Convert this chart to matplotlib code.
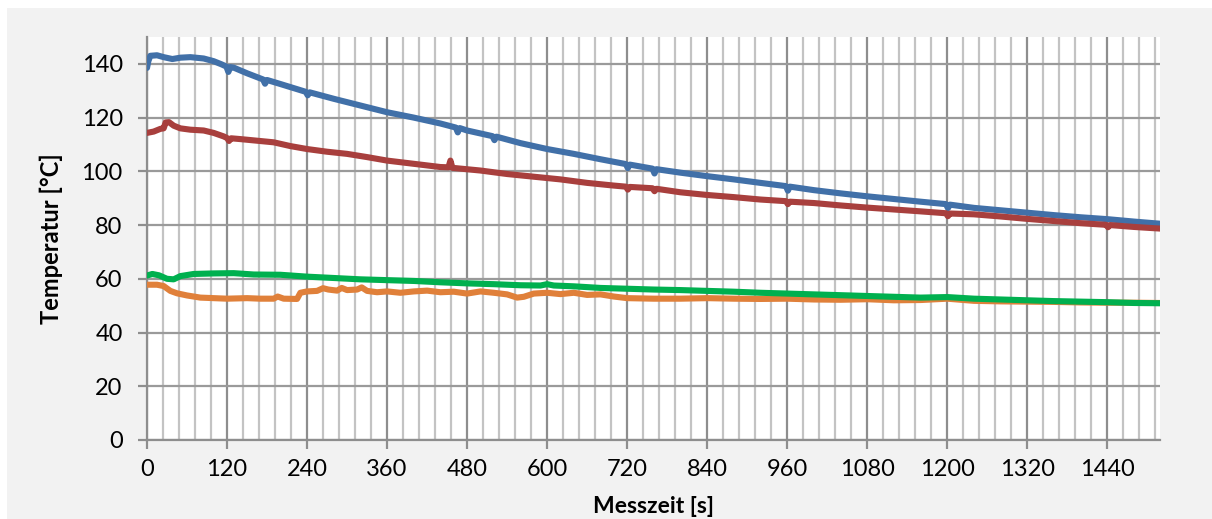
import matplotlib

matplotlib.use("Agg")

import matplotlib.pyplot as plt
from matplotlib.patches import Rectangle
from matplotlib.ticker import MultipleLocator

plt.rcParams["font.family"] = ["Lato", "DejaVu Sans"]

blue_t = [0, 2, 5, 15, 25, 38, 50, 65, 85, 100, 112, 119, 122, 125, 130, 150, 174,
          177, 180, 200, 238, 241, 244, 280, 320, 360, 400, 440, 463, 466, 469, 480,
          518, 521, 524, 560, 600, 640, 680, 718, 721, 724, 758, 761, 764, 800, 840,
          880, 920, 958, 961, 964, 1000, 1040, 1080, 1120, 1160, 1198, 1201, 1204,
          1240, 1280, 1320, 1360, 1400, 1440, 1480, 1519]
blue_T = [138.5, 141, 143, 143.2, 142.5, 141.8, 142.3, 142.5, 142.0, 141.0, 139.8,
          139.0, 137.0, 138.8, 138.6, 136.5, 134.2, 132.6, 134.0, 132.5, 129.6, 128.3,
          129.4, 127, 124.5, 122, 120, 117.8, 116.3, 114.5, 116.1, 115.2, 113.1, 111.6,
          112.9, 110.5, 108.3, 106.5, 104.5, 102.7, 101.2, 102.5, 101.0, 99.2, 100.8,
          99.5, 98.2, 97, 95.7, 94.5, 92.8, 94.3, 93, 91.8, 90.7, 89.7, 88.7, 87.8,
          86.3, 87.6, 86.4, 85.5, 84.6, 83.7, 82.9, 82.2, 81.3, 80.5]

red_t = [0, 10, 20, 25, 28, 33, 40, 50, 65, 85, 100, 115, 120, 123, 126, 140, 165,
         190, 215, 240, 270, 300, 330, 360, 400, 440, 452, 455, 458, 500, 540, 580,
         620, 660, 700, 718, 721, 724, 758, 761, 764, 800, 840, 880, 920, 958, 961,
         964, 1000, 1040, 1080, 1120, 1160, 1198, 1201, 1204, 1240, 1280, 1320, 1360,
         1400, 1438, 1441, 1444, 1480, 1519]
red_T = [114.3, 114.8, 115.8, 116, 118.2, 118.3, 117, 116, 115.5, 115.2, 114.3, 113,
         112.4, 111.3, 112.3, 112, 111.4, 110.8, 109.4, 108.3, 107.3, 106.5, 105.3, 104,
         102.8, 101.6, 101.5, 104.0, 101.3, 100.3, 99, 98, 97, 95.7, 94.7, 94.3, 93.2,
         94.2, 93.7, 92.6, 93.5, 92.2, 91.2, 90.4, 89.5, 88.9, 87.8, 88.7, 88.2, 87.3,
         86.5, 85.8, 85.1, 84.4, 83.3, 84.3, 84.0, 83.2, 82.3, 81.5, 80.7, 80.1, 79.2,
         80.0, 79.3, 78.7]

green_t = [0, 8, 18, 30, 40, 50, 70, 100, 130, 160, 200, 240, 280, 320, 360, 400,
           440, 480, 520, 560, 590, 600, 610, 640, 680, 720, 760, 800, 840, 880, 920,
           960, 1000, 1040, 1080, 1120, 1160, 1200, 1240, 1280, 1320, 1360, 1400, 1440,
           1480, 1519]
green_T = [61.2, 61.8, 61.3, 60.0, 59.8, 61, 61.8, 62, 62.1, 61.6, 61.5, 60.8, 60.3,
           59.8, 59.5, 59.2, 58.7, 58.3, 58, 57.6, 57.5, 58.0, 57.5, 57.2, 56.6, 56.3,
           56, 55.8, 55.5, 55.2, 54.8, 54.5, 54.2, 53.9, 53.6, 53.3, 53, 53.2, 52.6,
           52.3, 52, 51.7, 51.5, 51.3, 51, 50.9]

orange_t = [0, 15, 25, 35, 45, 60, 80, 100, 120, 150, 170, 190, 196, 205, 225, 230,
            240, 255, 264, 272, 285, 292, 300, 315, 322, 330, 345, 360, 380, 400, 420,
            440, 460, 480, 500, 520, 540, 555, 565, 580, 600, 620, 640, 660, 680, 700,
            720, 760, 800, 840, 880, 920, 960, 1000, 1040, 1080, 1120, 1160, 1200,
            1240, 1280, 1320, 1360, 1400, 1440, 1480, 1519]
orange_T = [57.8, 57.8, 57.3, 55.5, 54.6, 53.8, 53, 52.8, 52.6, 52.8, 52.6, 52.6,
            53.4, 52.6, 52.5, 54.8, 55.3, 55.5, 56.5, 56, 55.6, 56.6, 55.8, 56, 56.8,
            55.5, 55, 55.3, 54.8, 55.3, 55.6, 55, 55.2, 54.5, 55.3, 54.8, 54.2, 53,
            53.3, 54.5, 54.8, 54.3, 54.8, 54, 54.2, 53.4, 52.8, 52.6, 52.6, 52.8, 52.6,
            52.5, 52.6, 52.3, 52.2, 52.4, 52, 52.1, 52.6, 51.8, 51.6, 51.5, 51.4, 51.2,
            51.1, 51.1, 51]

x_max = 1519
y_max = 150

fig = plt.figure(figsize=(12.12, 5.19), dpi=100)
fig.patch.set_facecolor("white")
fig.patches.append(Rectangle((7 / 1212, 0), 1, 1 - 8 / 519, transform=fig.transFigure,
                             facecolor="#f2f2f2", edgecolor="none", zorder=-10))

ax = fig.add_axes([147 / 1212, 79 / 519, 1013 / 1212, 403 / 519])
ax.set_facecolor("white")

lw = 4.4
style = dict(lw=lw, solid_capstyle="round", solid_joinstyle="round", zorder=3)
ax.plot(blue_t, blue_T, color="#4170a8", **style)
ax.plot(red_t, red_T, color="#a83f3d", **style)
ax.plot(orange_t, orange_T, color="#e0803a", **style)
ax.plot(green_t, green_T, color="#00b04f", **style)

ax.set_xlim(0, x_max)
ax.set_ylim(0, y_max)
ax.xaxis.set_major_locator(MultipleLocator(120))
ax.xaxis.set_minor_locator(MultipleLocator(24))
ax.set_yticks(range(0, 141, 20))

ax.grid(which="minor", axis="x", color="#c3c3c3", lw=1.6, zorder=1)
ax.grid(which="major", axis="x", color="#8e8e8e", lw=1.6, zorder=1)
ax.grid(which="major", axis="y", color="#9a9a9a", lw=1.6, zorder=1)

for s in ("top", "right"):
    ax.spines[s].set_visible(False)
for s in ("left", "bottom"):
    ax.spines[s].set_color("#8e8e8e")
    ax.spines[s].set_linewidth(1.6)

ax.tick_params(axis="both", which="major", length=6.5, width=1.6, color="#8e8e8e",
               labelsize=17, labelcolor="black")
ax.tick_params(axis="y", pad=11)
ax.tick_params(axis="x", pad=7)
ax.tick_params(which="minor", length=0)

ax.set_xlabel("Messzeit [s]", fontsize=16.5, fontweight="bold", labelpad=12)
ax.set_ylabel("Temperatur [°C]", fontsize=17, fontweight="bold", labelpad=13)

fig.savefig("out.png", dpi=100, facecolor=fig.get_facecolor())
plt.close(fig)
